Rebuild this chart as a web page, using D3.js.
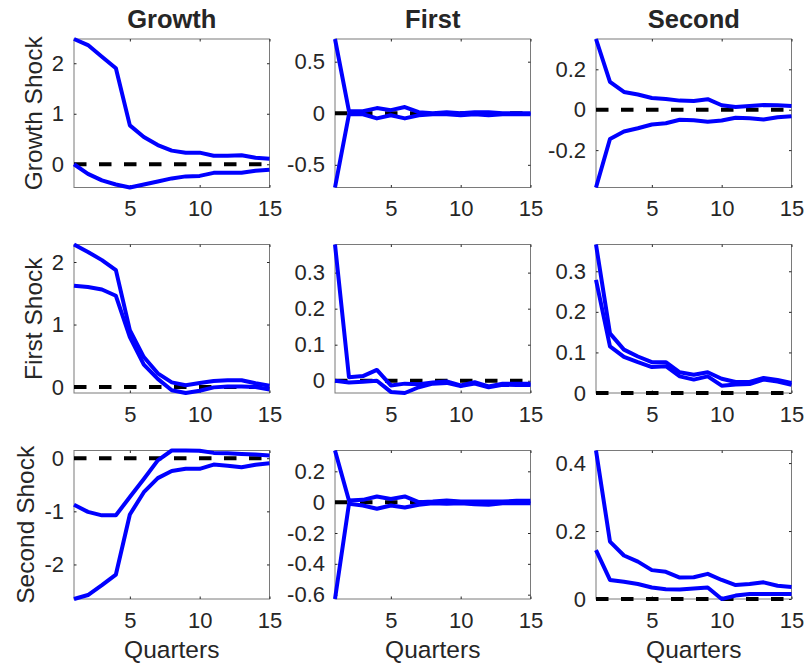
<!DOCTYPE html>
<html>
<head>
<meta charset="utf-8">
<script src="https://cdn.jsdelivr.net/npm/d3@7"></script>
<style>
  html, body { margin: 0; padding: 0; background: #ffffff; }
  svg { display: block; }
  text { font-family: "Liberation Sans", Arial, Helvetica, sans-serif; fill: #262626; }
</style>
</head>
<body>
<script>
// ---------------- DATA ----------------
const quarters = [1, 2, 3, 4, 5, 6, 7, 8, 9, 10, 11, 12, 13, 14, 15];
const colTitles = ["Growth", "First", "Second"];
const rowLabels = ["Growth Shock", "First Shock", "Second Shock"];
const xAxisLabel = "Quarters";
const xTickValues = [5, 10, 15];
const xTickLabels = ["5", "10", "15"];

// Row 1: Growth Shock
const gs_growth_hi = [2.48, 2.36, 2.13, 1.90, 0.77, 0.54, 0.38, 0.27, 0.23, 0.23, 0.17, 0.17, 0.18, 0.13, 0.11];
const gs_growth_lo = [0.00, -0.19, -0.32, -0.40, -0.46, -0.40, -0.34, -0.28, -0.24, -0.23, -0.17, -0.17, -0.17, -0.13, -0.11];
const gs_first_hi  = [0.72, 0.02, 0.02, 0.05, 0.03, 0.06, 0.01, 0.00, 0.01, 0.00, 0.01, 0.01, 0.00, 0.00, 0.00];
const gs_first_lo  = [-0.72, -0.01, -0.01, -0.05, -0.02, -0.05, -0.02, -0.01, -0.01, -0.02, -0.01, -0.02, -0.01, -0.01, -0.01];
const gs_second_hi = [0.350, 0.138, 0.088, 0.075, 0.058, 0.053, 0.045, 0.043, 0.052, 0.022, 0.013, 0.018, 0.023, 0.022, 0.018];
const gs_second_lo = [-0.385, -0.145, -0.108, -0.092, -0.073, -0.067, -0.050, -0.052, -0.060, -0.053, -0.040, -0.042, -0.048, -0.037, -0.032];

// Row 2: First Shock
const fs_growth_hi = [2.28, 2.16, 2.03, 1.87, 0.91, 0.48, 0.22, 0.075, 0.03, 0.065, 0.097, 0.11, 0.11, 0.06, 0.02];
const fs_growth_lo = [1.62, 1.60, 1.56, 1.46, 0.80, 0.36, 0.13, -0.05, -0.095, -0.06, -0.005, 0.01, 0.01, 0.00, -0.04];
const fs_first_hi  = [0.378, 0.010, 0.013, 0.030, -0.013, -0.008, -0.010, -0.005, -0.002, -0.013, -0.004, -0.016, -0.008, -0.008, -0.008];
const fs_first_lo  = [0.000, -0.005, -0.003, 0.000, -0.031, -0.034, -0.018, -0.008, -0.006, -0.015, -0.008, -0.018, -0.011, -0.012, -0.012];
const fs_second_hi = [0.366, 0.147, 0.107, 0.090, 0.076, 0.076, 0.051, 0.045, 0.051, 0.035, 0.027, 0.027, 0.037, 0.032, 0.025];
const fs_second_lo = [0.279, 0.115, 0.089, 0.076, 0.064, 0.066, 0.041, 0.033, 0.041, 0.018, 0.021, 0.022, 0.033, 0.028, 0.020];

// Row 3: Second Shock
const ss_growth_hi = [-0.875, -1.01, -1.075, -1.075, -0.73, -0.39, -0.04, 0.145, 0.145, 0.14, 0.10, 0.094, 0.08, 0.07, 0.05];
const ss_growth_lo = [-2.65, -2.575, -2.39, -2.19, -1.06, -0.64, -0.375, -0.24, -0.20, -0.20, -0.12, -0.14, -0.17, -0.125, -0.094];
const ss_first_hi  = [0.335, 0.011, 0.015, 0.037, 0.020, 0.037, 0.000, 0.004, 0.011, 0.004, 0.004, 0.004, 0.004, 0.009, 0.009];
const ss_first_lo  = [-0.628, -0.011, -0.022, -0.043, -0.022, -0.035, -0.017, -0.007, -0.011, -0.007, -0.013, -0.017, -0.007, -0.007, -0.007];
const ss_second_hi = [0.437, 0.169, 0.128, 0.110, 0.085, 0.080, 0.063, 0.064, 0.074, 0.056, 0.041, 0.044, 0.049, 0.039, 0.035];
const ss_second_lo = [0.144, 0.056, 0.051, 0.044, 0.034, 0.029, 0.028, 0.031, 0.034, 0.000, 0.010, 0.015, 0.015, 0.015, 0.015];

// y tick values per panel
const yTicks_gs_growth = [0, 1, 2];
const yTicks_gs_first  = [-0.5, 0, 0.5];
const yTicks_gs_second = [-0.2, 0, 0.2];
const yTicks_fs_growth = [0, 1, 2];
const yTicks_fs_first  = [0, 0.1, 0.2, 0.3];
const yTicks_fs_second = [0, 0.1, 0.2, 0.3];
const yTicks_ss_growth = [-2, -1, 0];
const yTicks_ss_first  = [-0.6, -0.4, -0.2, 0, 0.2];
const yTicks_ss_second = [0, 0.2, 0.4];

// ---------------- LAYOUT ----------------
const W = 805, H = 664;
const colLeft = [74, 335, 596];
const rowTop = [39, 244.5, 450.5];
const pw = 195.5, ph = 148.5;
const tickLen = 2.5;
const tickFont = 22, labelFont = 24.5, titleFont = 25.5;

const panels = [
  [ {hi: gs_growth_hi, lo: gs_growth_lo, ticks: yTicks_gs_growth},
    {hi: gs_first_hi,  lo: gs_first_lo,  ticks: yTicks_gs_first},
    {hi: gs_second_hi, lo: gs_second_lo, ticks: yTicks_gs_second} ],
  [ {hi: fs_growth_hi, lo: fs_growth_lo, ticks: yTicks_fs_growth},
    {hi: fs_first_hi,  lo: fs_first_lo,  ticks: yTicks_fs_first},
    {hi: fs_second_hi, lo: fs_second_lo, ticks: yTicks_fs_second} ],
  [ {hi: ss_growth_hi, lo: ss_growth_lo, ticks: yTicks_ss_growth},
    {hi: ss_first_hi,  lo: ss_first_lo,  ticks: yTicks_ss_first},
    {hi: ss_second_hi, lo: ss_second_lo, ticks: yTicks_ss_second} ]
];

const svg = d3.select("body").append("svg")
  .attr("width", W).attr("height", H)
  .attr("viewBox", `0 0 ${W} ${H}`);

svg.append("rect").attr("width", W).attr("height", H).attr("fill", "#fff");

const fmt = v => String(v);

panels.forEach((row, r) => {
  let minTickLeft = Infinity;
  row.forEach((p, c) => {
    const L = colLeft[c], T = rowTop[r];
    const x = d3.scaleLinear().domain([quarters[0], quarters[quarters.length - 1]]).range([L, L + pw]);
    const ext = d3.extent([...p.hi, ...p.lo, 0]);
    const y = d3.scaleLinear().domain(ext).range([T + ph, T]);

    const g = svg.append("g");

    // axes box
    g.append("rect").attr("x", L).attr("y", T).attr("width", pw).attr("height", ph)
      .attr("fill", "#fff").attr("stroke", "#7a7a7a").attr("stroke-width", 1);

    const yl = g.append("g").attr("transform", `translate(${L},0)`)
      .call(d3.axisLeft(y).tickValues(p.ticks).tickFormat(fmt)
        .tickSizeInner(-tickLen).tickSizeOuter(0).tickPadding(10));
    g.append("g").attr("transform", `translate(${L + pw},0)`)
      .call(d3.axisRight(y).tickValues(p.ticks).tickFormat("")
        .tickSizeInner(-tickLen).tickSizeOuter(0));
    g.append("g").attr("transform", `translate(0,${T})`)
      .call(d3.axisTop(x).tickValues(xTickValues).tickFormat("")
        .tickSizeInner(-tickLen).tickSizeOuter(0));
    g.append("g").attr("transform", `translate(0,${T + ph})`)
      .call(d3.axisBottom(x).tickValues(xTickValues).tickFormat((d, i) => xTickLabels[i])
        .tickSizeInner(-tickLen).tickSizeOuter(0).tickPadding(13));

    g.selectAll(".domain").remove();
    g.selectAll(".tick line").attr("stroke", "#262626").attr("stroke-width", 1);
    g.selectAll(".tick text").attr("font-size", tickFont)
      .attr("font-family", '"Liberation Sans", Arial, sans-serif').attr("fill", "#262626");

    if (c === 0) {
      yl.selectAll(".tick text").each(function () {
        const b = this.getBBox();
        minTickLeft = Math.min(minTickLeft, L + b.x);
      });
    }

    // data layer (not clipped, like MATLAB's stroke rendering at the box edge)
    const dl = g.append("g");
    dl.append("line")
      .attr("x1", x(quarters[0])).attr("x2", x(quarters[quarters.length - 1]))
      .attr("y1", y(0)).attr("y2", y(0))
      .attr("stroke", "#000").attr("stroke-width", 4)
      .attr("stroke-dasharray", "12.5,12.5");

    const line = d3.line().x((d, i) => x(quarters[i])).y(d => y(d));
    [p.hi, p.lo].forEach(s => {
      dl.append("path").datum(s).attr("d", line)
        .attr("fill", "none").attr("stroke", "#0000ff")
        .attr("stroke-width", 4).attr("stroke-linejoin", "round");
    });

    if (r === 0) {
      svg.append("text").attr("x", L + pw / 2).attr("y", 28)
        .attr("text-anchor", "middle").attr("font-size", titleFont)
        .attr("font-weight", "bold").attr("fill", "#000").text(colTitles[c]);
    }
    if (r === 2) {
      svg.append("text").attr("x", L + pw / 2).attr("y", 658)
        .attr("text-anchor", "middle").attr("font-size", labelFont)
        .text(xAxisLabel);
    }
  });
  const cy = rowTop[r] + ph / 2;
  const lx = minTickLeft - 10;
  svg.append("text")
    .attr("transform", `translate(${lx},${cy}) rotate(-90)`)
    .attr("text-anchor", "middle").attr("font-size", labelFont)
    .text(rowLabels[r]);
});
</script>
</body>
</html>
